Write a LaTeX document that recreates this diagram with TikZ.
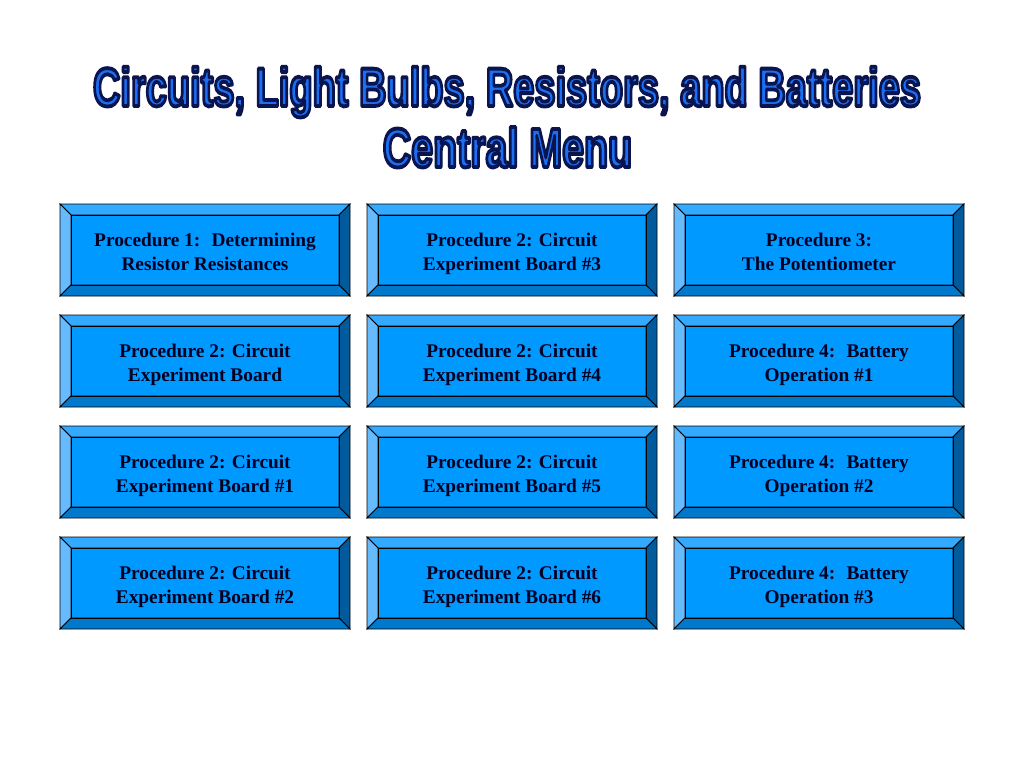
\documentclass[tikz,border=0pt]{standalone}
\usepackage{fontspec}
\setmainfont{Liberation Serif}
\newfontfamily\titlefont{Liberation Sans}
\usepackage{graphicx}
\definecolor{btnface}{HTML}{0099FF}
\definecolor{btntop}{HTML}{33AAFF}
\definecolor{btnleft}{HTML}{66BBFF}
\definecolor{btnright}{HTML}{005A9C}
\definecolor{btnbottom}{HTML}{0078CC}
\definecolor{titleblue}{HTML}{1A6FF2}
\definecolor{btntext}{HTML}{000022}
\newcommand{\outlined}[1]{\special{pdf:literal direct 2 Tr 0.7 w 1 j 0.04 0.08 0.31 RG}#1\special{pdf:literal direct 0 Tr 0 j}}
\tikzset{
  bevel/.style={draw=black, line width=0.6pt, line join=miter},
  btnlabel/.style={align=center, text=btntext, font=\fontsize{14.5pt}{18pt}\selectfont\bfseries, inner sep=0pt},
  titletext/.style={inner sep=0pt, anchor=base, text=titleblue, font=\titlefont\bfseries}
}
\newcommand{\bevelbutton}[4]{%
  % #1 name, #2 x, #3 y (top-left of outer), #4 text
  \begin{scope}[shift={(#2,#3)}]
    \fill[btnface] (11,11) rectangle (279,81);
    \filldraw[bevel, fill=btntop] (0,0) -- (290,0) -- (279,11) -- (11,11) -- cycle;
    \filldraw[bevel, fill=btnleft] (0,0) -- (11,11) -- (11,81) -- (0,92) -- cycle;
    \filldraw[bevel, fill=btnright] (290,0) -- (290,92) -- (279,81) -- (279,11) -- cycle;
    \filldraw[bevel, fill=btnbottom] (0,92) -- (11,81) -- (279,81) -- (290,92) -- cycle;
    \draw[bevel] (11,11) rectangle (279,81);
    \node[btnlabel] (#1) at (145,50) {\strut #4\strut};
  \end{scope}}
\begin{document}
\begin{tikzpicture}[x=0.75pt, y=-0.75pt]
\useasboundingbox (0,0) rectangle (1024,768);
\fill[white] (0,0) rectangle (1024,768);
\node[titletext] (title1) at (507,106)
  {\resizebox{621pt}{29.5pt}{\outlined{Circuits, Light Bulbs, Resistors, and Batteries}}};
\node[titletext] (title2) at (507.5,167)
  {\resizebox{187pt}{30pt}{\outlined{Central Menu}}};

\bevelbutton{b11}{60}{204}{Procedure 1:~ Determining\\Resistor Resistances}
\bevelbutton{b12}{367}{204}{Procedure 2: Circuit\\Experiment Board \#3}
\bevelbutton{b13}{674}{204}{Procedure 3:\\The Potentiometer}

\bevelbutton{b21}{60}{315}{Procedure 2: Circuit\\Experiment Board}
\bevelbutton{b22}{367}{315}{Procedure 2: Circuit\\Experiment Board \#4}
\bevelbutton{b23}{674}{315}{Procedure 4:~ Battery\\Operation \#1}

\bevelbutton{b31}{60}{426}{Procedure 2: Circuit\\Experiment Board \#1}
\bevelbutton{b32}{367}{426}{Procedure 2: Circuit\\Experiment Board \#5}
\bevelbutton{b33}{674}{426}{Procedure 4:~ Battery\\Operation \#2}

\bevelbutton{b41}{60}{537}{Procedure 2: Circuit\\Experiment Board \#2}
\bevelbutton{b42}{367}{537}{Procedure 2: Circuit\\Experiment Board \#6}
\bevelbutton{b43}{674}{537}{Procedure 4:~ Battery\\Operation \#3}
\end{tikzpicture}
\end{document}
